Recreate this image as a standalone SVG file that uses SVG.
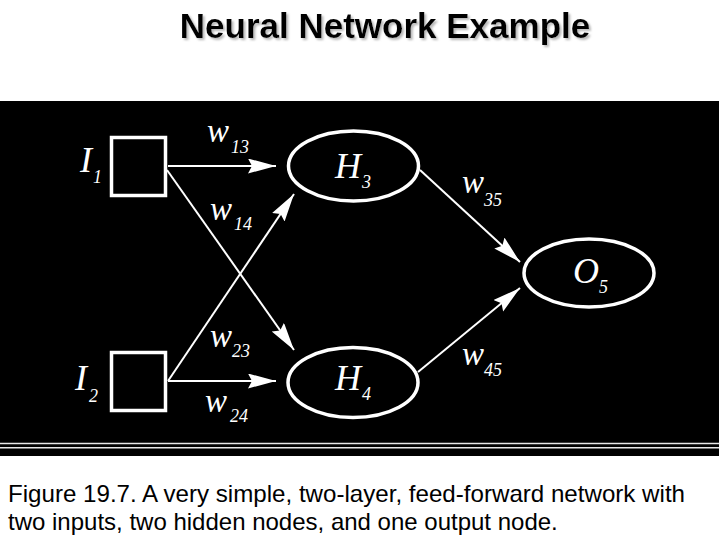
<svg xmlns="http://www.w3.org/2000/svg" width="720" height="540" viewBox="0 0 720 540">
<style>
.node{fill:none;stroke:#fff;stroke-width:3.5}
.edge{stroke:#fff;stroke-width:2;fill:none}
.big{font-family:"Liberation Serif","DejaVu Serif",serif;font-style:italic;font-size:36px;fill:#fff}
.w{font-family:"Liberation Serif","DejaVu Serif",serif;font-style:italic;font-size:33px;fill:#fff}
.sub{font-family:"Liberation Serif","DejaVu Serif",serif;font-style:italic;font-size:18px;fill:#fff}
.cap{font-family:"Liberation Sans",Arial,sans-serif;font-size:24px;fill:#000}
.title{font-family:"Liberation Sans",Arial,sans-serif;font-size:35px;font-weight:bold;fill:#000}
</style>
<defs>
<marker id="arr" markerUnits="userSpaceOnUse" markerWidth="30" markerHeight="16" refX="28" refY="7.5" orient="auto">
<path d="M0,0 L28,7.5 L0,15 L4,7.5 z" fill="#fff"/>
</marker>
<filter id="sh" x="-5%" y="-20%" width="110%" height="150%">
<feDropShadow dx="2" dy="2" stdDeviation="0.8" flood-color="#999" flood-opacity="0.7"/>
</filter>
</defs>
<rect width="720" height="540" fill="#fff"/>
<text class="title" x="385" y="38" text-anchor="middle" filter="url(#sh)">Neural Network Example</text>
<rect x="0" y="101" width="719" height="355" fill="#000"/>
<line x1="0" y1="443.5" x2="719" y2="443.5" stroke="#e8e8e8" stroke-width="1.6"/>
<line x1="0" y1="447.7" x2="719" y2="447.7" stroke="#e8e8e8" stroke-width="1.6"/>
<g id="connectors">
<line class="edge" x1="168" y1="166" x2="276" y2="166" marker-end="url(#arr)"/>
<line class="edge" x1="167" y1="170" x2="294" y2="350" marker-end="url(#arr)"/>
<line class="edge" x1="168" y1="381" x2="294" y2="194" marker-end="url(#arr)"/>
<line class="edge" x1="168" y1="381" x2="276" y2="381" marker-end="url(#arr)"/>
<line class="edge" x1="420" y1="170" x2="520" y2="262" marker-end="url(#arr)"/>
<line class="edge" x1="418" y1="372" x2="520" y2="288" marker-end="url(#arr)"/>
<text class="w" x="207" y="142">w</text><text class="sub" x="231" y="153">13</text>
<text class="w" x="210" y="220">w</text><text class="sub" x="234" y="230">14</text>
<text class="w" x="210" y="347">w</text><text class="sub" x="232" y="357">23</text>
<text class="w" x="205" y="412">w</text><text class="sub" x="230" y="422">24</text>
<text class="w" x="462" y="193">w</text><text class="sub" x="484" y="206">35</text>
<text class="w" x="462" y="365">w</text><text class="sub" x="484" y="376">45</text>
</g>
<g id="I1">
<rect class="node" x="111.5" y="137.5" width="54" height="58" stroke-width="3"/>
<text class="big" x="80" y="172">I</text><text class="sub" x="93" y="183">1</text>
</g>
<g id="I2">
<rect class="node" x="111.5" y="352.5" width="54" height="58" stroke-width="3"/>
<text class="big" x="75" y="390">I</text><text class="sub" x="89" y="402">2</text>
</g>
<g id="H3">
<ellipse class="node" cx="353.5" cy="166" rx="65" ry="35"/>
<text class="big" x="335" y="178">H</text><text class="sub" x="362" y="188">3</text>
</g>
<g id="H4">
<ellipse class="node" cx="353" cy="382.5" rx="65" ry="35"/>
<text class="big" x="335" y="390">H</text><text class="sub" x="362" y="400">4</text>
</g>
<g id="O5">
<ellipse class="node" cx="589" cy="273" rx="65" ry="34"/>
<text class="big" x="573" y="283">O</text><text class="sub" x="599" y="293">5</text>
</g>
<text class="cap" x="8" y="502" textLength="677" lengthAdjust="spacingAndGlyphs">Figure 19.7. A very simple, two-layer, feed-forward network with</text>
<text class="cap" x="8" y="530">two inputs, two hidden nodes, and one output node.</text>
</svg>
